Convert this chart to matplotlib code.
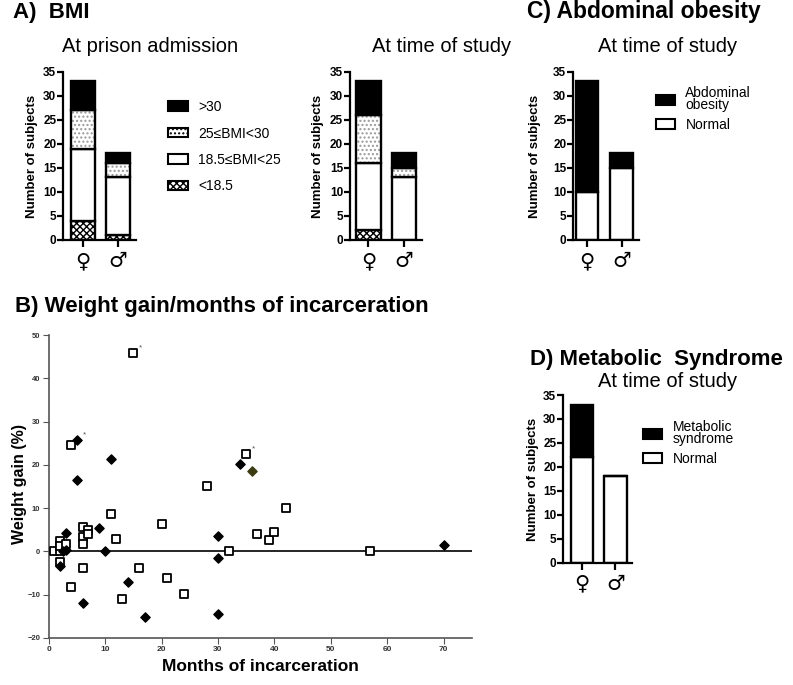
import numpy as np
import matplotlib.pyplot as plt
from matplotlib.patches import Patch

plt.rcParams['font.family'] = ['Liberation Sans', 'DejaVu Sans']
plt.rcParams['hatch.linewidth'] = 1.0

W, H = 793, 685

# ---- data ----
sexes = ['♀', '♂']

# BMI at prison admission (female, male)
adm_under = [4, 1]
adm_normal = [15, 12]
adm_over = [8, 3]
adm_obese = [6, 2]

# BMI at time of study
now_under = [2, 0]
now_normal = [14, 13]
now_over = [10, 2]
now_obese = [7, 3]

# abdominal obesity at time of study
abd_normal = [10, 15]
abd_obese = [23, 3]

# metabolic syndrome at time of study
met_normal = [22, 18]
met_syndrome = [11, 0]

# weight gain vs months of incarceration
sq_x = [1, 2, 2, 2, 3, 2, 4, 6, 6, 6, 7, 7, 6, 4, 12, 11, 13, 16, 15, 20,
        21, 24, 28, 32, 35, 37, 39, 40, 42, 57]
sq_y = [0, 0, 2.3, 1.2, 1.8, -2.5, 24.5, 5.6, 3.3, 1.8, 5.0, 4.0, -3.9, -8.2,
        2.9, 8.7, -11, -3.8, 45.8, 6.3, -6.1, -9.9, 15.2, 0, 22.4, 4.1, 2.7,
        4.4, 10, 0]
dm_x = [2, 2.5, 3, 3, 5, 5, 6, 9, 10, 11, 14, 17, 30, 30, 30, 34, 70]
dm_y = [-3.3, 0, 0.4, 4.2, 25.7, 16.5, -12, 5.4, 0, 21.3, -7, -15.2, 3.5,
        -1.6, -14.4, 20.2, 1.5]
olive_x = [36]
olive_y = [18.5]
star_x = [15, 5, 35]
star_y = [45.8, 25.7, 22.4]


def box(l, t, r, b):
    return [l / W, 1 - b / H, (r - l) / W, (b - t) / H]


def ftext(x, y, s, **kw):
    return fig.text(x / W, 1 - y / H, s, **kw)


def style_bars(ax, xlim):
    ax.set_xlim(*xlim)
    ax.set_ylim(0, 35)
    ax.set_yticks(range(0, 36, 5))
    ax.set_xticks([0, 1])
    ax.set_xticklabels(sexes, fontsize=15, family=['DejaVu Sans'])
    for s in ['top', 'right']:
        ax.spines[s].set_visible(False)
    for s in ['left', 'bottom']:
        ax.spines[s].set_linewidth(1.6)
    ax.tick_params(axis='y', length=4, width=1.6, labelsize=8.5, pad=1)
    ax.tick_params(axis='x', length=5, width=1.6, pad=3)
    for lab in ax.get_yticklabels():
        lab.set_fontweight('bold')


def stack(ax, layers, width):
    x = np.arange(2)
    bottom = np.zeros(2)
    for vals, face, hatch, hc in layers:
        vals = np.array(vals, float)
        if hatch:
            ax.bar(x, vals, width, bottom=bottom, color=face, edgecolor=hc,
                   hatch=hatch, lw=0)
            ax.bar(x, vals, width, bottom=bottom, fill=False,
                   edgecolor='black', lw=1.7)
        else:
            ax.bar(x, vals, width, bottom=bottom, color=face,
                   edgecolor='black', lw=1.7)
        bottom += vals


fig = plt.figure(figsize=(W / 100, H / 100), dpi=100)

# ---- A) BMI ----
ax1 = fig.add_axes(box(63.3, 71.7, 136, 240))
stack(ax1, [(adm_under, 'white', 'xxxxx', 'black'),
            (adm_normal, 'white', None, None),
            (adm_over, 'white', '....', '#999999'),
            (adm_obese, 'black', None, None)], 0.69)
style_bars(ax1, (-0.57, 1.52))

ax2 = fig.add_axes(box(350, 71.7, 421.7, 240))
stack(ax2, [(now_under, 'white', 'xxxxx', 'black'),
            (now_normal, 'white', None, None),
            (now_over, 'white', '....', '#999999'),
            (now_obese, 'black', None, None)], 0.69)
style_bars(ax2, (-0.52, 1.5))

bmi_handles = [Patch(facecolor='black', edgecolor='black', lw=1.5),
               Patch(facecolor='white', edgecolor='black', hatch='....', lw=1.5),
               Patch(facecolor='white', edgecolor='black', lw=1.5),
               Patch(facecolor='white', edgecolor='black', hatch='xxxxx', lw=1.5)]
bmi_names = ['>30', '25≤BMI<30', '18.5≤BMI<25', '<18.5']
fig.legend(bmi_handles, bmi_names, loc='upper left',
           bbox_to_anchor=(168 / W, 1 - 100 / H), frameon=False, fontsize=10,
           handlelength=1.44, handleheight=0.65, handletextpad=0.72,
           labelspacing=0.9, borderpad=0, borderaxespad=0)

ftext(13, 18, 'A)  BMI', fontsize=16, fontweight='bold', va='baseline')
ftext(150, 52, 'At prison admission', fontsize=14.5, ha='center', va='baseline')
ftext(442, 52, 'At time of study', fontsize=14.5, ha='center', va='baseline')
ftext(32, 156, 'Number of subjects', fontsize=9.5, fontweight='bold',
      rotation=90, ha='center', va='center')
ftext(318, 156, 'Number of subjects', fontsize=9.5, fontweight='bold',
      rotation=90, ha='center', va='center')

# ---- C) Abdominal obesity ----
ax3 = fig.add_axes(box(573.3, 71.7, 639.3, 240))
stack(ax3, [(abd_normal, 'white', None, None),
            (abd_obese, 'black', None, None)], 0.65)
style_bars(ax3, (-0.39, 1.51))
leg = fig.legend([Patch(facecolor='black', edgecolor='black', lw=1.5),
                  Patch(facecolor='white', edgecolor='black', lw=1.5)],
                 ['Abdominal\nobesity', 'Normal'], loc='upper left',
                 bbox_to_anchor=(656 / W, 1 - 86 / H), frameon=False,
                 fontsize=10, handlelength=1.4, handleheight=0.8,
                 handletextpad=0.72, labelspacing=0.4, borderpad=0,
                 borderaxespad=0)
for t in leg.get_texts():
    t.set_linespacing(0.85)
ftext(527, 18, 'C) Abdominal obesity', fontsize=16.5, fontweight='bold',
      va='baseline')
ftext(668, 52, 'At time of study', fontsize=14.5, ha='center', va='baseline')
ftext(535, 156, 'Number of subjects', fontsize=9.5, fontweight='bold',
      rotation=90, ha='center', va='center')

# ---- D) Metabolic syndrome ----
ax4 = fig.add_axes(box(563.3, 395, 631.7, 562.7))
stack(ax4, [(met_normal, 'white', None, None),
            (met_syndrome, 'black', None, None)], 0.68)
style_bars(ax4, (-0.56, 1.49))
leg = fig.legend([Patch(facecolor='black', edgecolor='black', lw=1.5),
                  Patch(facecolor='white', edgecolor='black', lw=1.5)],
                 ['Metabolic\nsyndrome', 'Normal'], loc='upper left',
                 bbox_to_anchor=(643 / W, 1 - 420 / H), frameon=False,
                 fontsize=10, handlelength=1.4, handleheight=0.8,
                 handletextpad=0.72, labelspacing=0.4, borderpad=0,
                 borderaxespad=0)
for t in leg.get_texts():
    t.set_linespacing(0.85)
ftext(530, 365, 'D) Metabolic  Syndrome', fontsize=16, fontweight='bold',
      va='baseline')
ftext(668, 387, 'At time of study', fontsize=14.5, ha='center', va='baseline')
ftext(533, 479, 'Number of subjects', fontsize=9.5, fontweight='bold',
      rotation=90, ha='center', va='center')

# ---- B) Weight gain ----
ax5 = fig.add_axes(box(48.7, 335, 471.7, 638))
ax5.axhline(0, color='black', lw=1.2, zorder=1)
ax5.scatter(sq_x, sq_y, marker='s', s=32, facecolors='white',
            edgecolors='black', linewidths=1.3, zorder=3)
ax5.scatter(dm_x, dm_y, marker='D', s=22, color='black', zorder=3)
ax5.scatter(olive_x, olive_y, marker='D', s=22, color='#3b3b12', zorder=3)
for sx, sy in zip(star_x, star_y):
    ax5.annotate('*', (sx, sy), xytext=(5.5, 4), textcoords='offset points',
                 ha='center', va='center', fontsize=6, color='#555555')
ax5.set_xlim(0, 75)
ax5.set_ylim(-20, 50)
ax5.set_xticks(range(0, 71, 10))
ax5.set_yticks(range(-20, 51, 10))
for s in ['top', 'right']:
    ax5.spines[s].set_visible(False)
for s in ['left', 'bottom']:
    ax5.spines[s].set_color('#555555')
    ax5.spines[s].set_linewidth(1.2)
ax5.tick_params(axis='y', length=4, color='#555555', labelsize=5.5, pad=2)
ax5.tick_params(axis='x', length=4, color='#555555', labelsize=6, pad=2)
for lab in ax5.get_xticklabels() + ax5.get_yticklabels():
    lab.set_fontweight('bold')
    lab.set_color('#333333')
ftext(15, 312, 'B) Weight gain/months of incarceration', fontsize=16,
      fontweight='bold', va='baseline')
ftext(20, 484, 'Weight gain (%)', fontsize=11.5, fontweight='bold',
      rotation=90, ha='center', va='center')
ftext(260, 671, 'Months of incarceration', fontsize=12.5, fontweight='bold',
      ha='center', va='baseline')

fig.savefig('out.png', dpi=100)
